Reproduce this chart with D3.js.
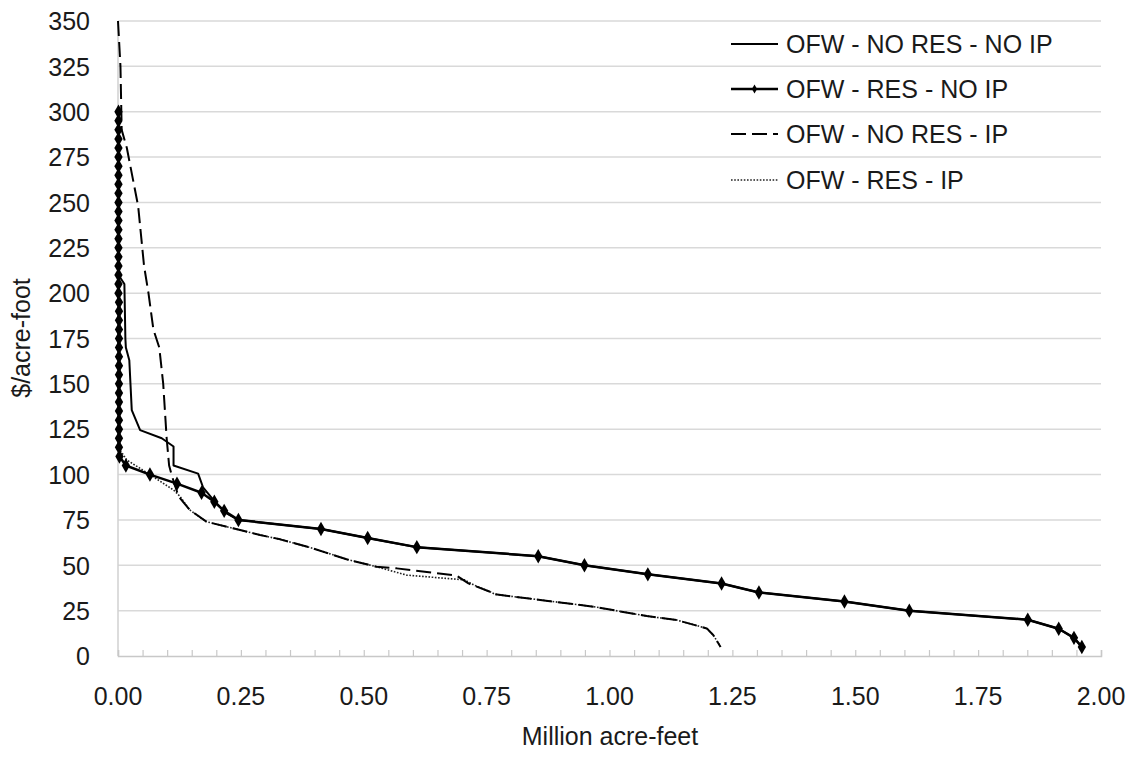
<!DOCTYPE html>
<html>
<head>
<meta charset="utf-8">
<script src="https://cdn.jsdelivr.net/npm/d3@7"></script>
<style>
  html, body { margin: 0; padding: 0; background: #fff; }
  svg { display: block; }
  text { font-family: "Liberation Sans", Arial, sans-serif; fill: #1a1a1a; }
</style>
</head>
<body>
<svg id="chart" width="1138" height="757"></svg>
<script>
// ---- Data (quantity in million acre-feet, price in $/acre-foot) ----
const seriesNames = ["OFW - NO RES - NO IP", "OFW - RES - NO IP", "OFW - NO RES - IP", "OFW - RES - IP"];

const noResNoIpQty   = [0.001, 0.001, 0.013, 0.015, 0.016, 0.023, 0.028, 0.045, 0.089, 0.113, 0.113, 0.163, 0.173, 0.194, 0.218, 0.245,
                        0.413, 0.508, 0.608, 0.855, 0.949, 1.078, 1.228, 1.304, 1.478, 1.610, 1.851, 1.914, 1.945, 1.961];
const noResNoIpPrice = [300, 210, 205, 175, 170, 163, 135.5, 124.5, 120, 115.5, 105, 100.5, 93, 86, 79, 75,
                        70, 65, 60, 55, 50, 45, 40, 35, 30, 25, 20, 15, 10, 5];

const resNoIpQty   = [0.001, 0.001, 0.001, 0.001, 0.001, 0.001, 0.001, 0.001, 0.001, 0.001, 0.001, 0.001, 0.001, 0.001, 0.001, 0.001, 0.001, 0.001, 0.001, 0.001, 0.001,
                      0.002, 0.002, 0.002, 0.002, 0.002, 0.002, 0.002, 0.002, 0.002, 0.002, 0.002, 0.002, 0.002, 0.002, 0.002, 0.002, 0.002, 0.003,
                      0.016, 0.065, 0.120, 0.170, 0.196, 0.216, 0.245, 0.413, 0.508, 0.608, 0.855, 0.949, 1.078, 1.228, 1.304, 1.478, 1.610, 1.851, 1.914, 1.945, 1.961];
const resNoIpPrice = [300, 295, 290, 285, 280, 275, 270, 265, 260, 255, 250, 245, 240, 235, 230, 225, 220, 215, 210, 205, 200,
                      195, 190, 185, 180, 175, 170, 165, 160, 155, 150, 145, 140, 135, 130, 125, 120, 115, 110,
                      105, 100, 95, 90, 85, 80, 75, 70, 65, 60, 55, 50, 45, 40, 35, 30, 25, 20, 15, 10, 5];

const noResIpQty   = [0.000, 0.005, 0.0075, 0.018, 0.041, 0.053, 0.062, 0.072, 0.084, 0.088, 0.092, 0.099, 0.102, 0.104, 0.110, 0.123, 0.146, 0.180, 0.234, 0.289,
                      0.330, 0.397, 0.465, 0.526, 0.567, 0.689, 0.713, 0.757, 0.767, 0.859, 0.967, 1.076, 1.137, 1.198, 1.211, 1.226];
const noResIpPrice = [350, 325, 290, 280, 248, 215, 200, 180, 170, 160, 150, 120, 111, 105, 99, 88, 80.5, 74, 70.4, 66.7,
                      64.3, 59.3, 53.3, 49.2, 48.3, 44.3, 40, 35.4, 34, 30.9, 27.2, 22, 19.8, 15.2, 11.6, 5];

const resIpQty   = [0.001, 0.001, 0.004, 0.018, 0.065, 0.113, 0.126, 0.146, 0.180, 0.234, 0.289,
                    0.330, 0.397, 0.465, 0.526, 0.587, 0.680, 0.705, 0.725, 0.757, 0.767, 0.859, 0.967, 1.076, 1.137, 1.198, 1.211, 1.226];
const resIpPrice = [300, 116, 113.5, 108, 100, 91.5, 88, 80.5, 74, 70.4, 66.7,
                    64.3, 59.3, 53.3, 49.2, 44.6, 42.5, 42, 39, 35.4, 34, 30.9, 27.2, 22, 19.8, 15.2, 11.6, 5];

const yTicks = [0, 25, 50, 75, 100, 125, 150, 175, 200, 225, 250, 275, 300, 325, 350];
const xTicks = [0, 0.25, 0.5, 0.75, 1.0, 1.25, 1.5, 1.75, 2.0];
const xMinorStep = 0.05;
const xLabel = "Million acre-feet";
const yLabel = "$/acre-foot";

// ---- Layout ----
const svg = d3.select("#chart");
const x = d3.scaleLinear().domain([0, 2]).range([118, 1101]);
const y = d3.scaleLinear().domain([0, 350]).range([656, 21]);
const FS = 25;

// Gridlines
svg.append("g").selectAll("line").data(yTicks.filter(d => d > 0)).join("line")
  .attr("x1", x(0)).attr("x2", x(2))
  .attr("y1", d => y(d)).attr("y2", d => y(d))
  .attr("stroke", "#d9d9d9").attr("stroke-width", 1.5);

// Y axis line
svg.append("line").attr("x1", x(0)).attr("x2", x(0)).attr("y1", y(0)).attr("y2", y(350))
  .attr("stroke", "#d0d0d0").attr("stroke-width", 1.5);

// X axis with minor ticks (inward)
const minorTicks = d3.range(0, 40 + 1).map(i => +(i * xMinorStep).toFixed(2));
const xAxis = d3.axisBottom(x).tickValues(minorTicks).tickSize(-6).tickFormat("");
const gx = svg.append("g").attr("transform", `translate(0,${y(0)})`).call(xAxis);
gx.select(".domain").attr("stroke", "#c8c8c8").attr("stroke-width", 1.5);
gx.selectAll(".tick line").attr("stroke", "#c8c8c8").attr("stroke-width", 1.2);

// X tick labels
svg.append("g").selectAll("text").data(xTicks).join("text")
  .attr("x", d => x(d)).attr("y", 705)
  .attr("text-anchor", "middle").attr("font-size", FS)
  .text(d => d3.format(".2f")(d));

// Y tick labels
const yAxis = d3.axisLeft(y).tickValues(yTicks).tickSize(0).tickPadding(28).tickFormat(d3.format("d"));
const gy = svg.append("g").attr("transform", `translate(${x(0)},0)`).call(yAxis);
gy.select(".domain").remove();
gy.selectAll(".tick text").attr("font-size", FS).attr("font-family", "Liberation Sans, Arial, sans-serif")
  .attr("fill", "#1a1a1a").attr("dy", "0.35em");

// Axis titles
svg.append("text").attr("x", 610).attr("y", 745).attr("text-anchor", "middle")
  .attr("font-size", FS).text(xLabel);
svg.append("text").attr("transform", "translate(30,338) rotate(-90)")
  .attr("text-anchor", "middle").attr("font-size", FS).text(yLabel);

// ---- Lines ----
const line = d3.line().x(d => x(d[0])).y(d => y(d[1]));
const zip = (a, b) => a.map((v, i) => [v, b[i]]);

const styles = [
  { data: zip(noResNoIpQty, noResNoIpPrice), width: 2, dash: null, color: "#000" },
  { data: zip(resNoIpQty, resNoIpPrice), width: 2.5, dash: null, color: "#000", markers: true },
  { data: zip(noResIpQty, noResIpPrice), width: 2, dash: "15,6", color: "#000" },
  { data: zip(resIpQty, resIpPrice), width: 1.6, dash: "1.6,1.6", color: "#222" }
];

const drawOrder = [3, 2, 0, 1];
drawOrder.forEach(i => {
  const s = styles[i];
  svg.append("path").datum(s.data)
    .attr("d", line).attr("fill", "none")
    .attr("stroke", s.color).attr("stroke-width", s.width)
    .attr("stroke-dasharray", s.dash)
    .attr("stroke-linejoin", "round");
  if (s.markers) {
    svg.append("g").selectAll("path").data(s.data).join("path")
      .attr("transform", d => `translate(${x(d[0])},${y(d[1])})`)
      .attr("d", d3.symbol(d3.symbolDiamond, 60))
      .attr("fill", "#000");
  }
});

// ---- Legend ----
const legendY = [44, 89, 134, 180];
const lg = svg.append("g");
seriesNames.forEach((name, i) => {
  const s = styles[i];
  lg.append("line").attr("x1", 731).attr("x2", 778).attr("y1", legendY[i]).attr("y2", legendY[i])
    .attr("stroke", s.color).attr("stroke-width", s.width)
    .attr("stroke-dasharray", s.dash);
  if (s.markers) {
    lg.append("path").attr("transform", `translate(754.5,${legendY[i]})`)
      .attr("d", d3.symbol(d3.symbolDiamond, 24)).attr("fill", "#000");
  }
  lg.append("text").attr("x", 786).attr("y", legendY[i]).attr("dy", "0.35em")
    .attr("font-size", FS).text(name);
});
</script>
</body>
</html>
